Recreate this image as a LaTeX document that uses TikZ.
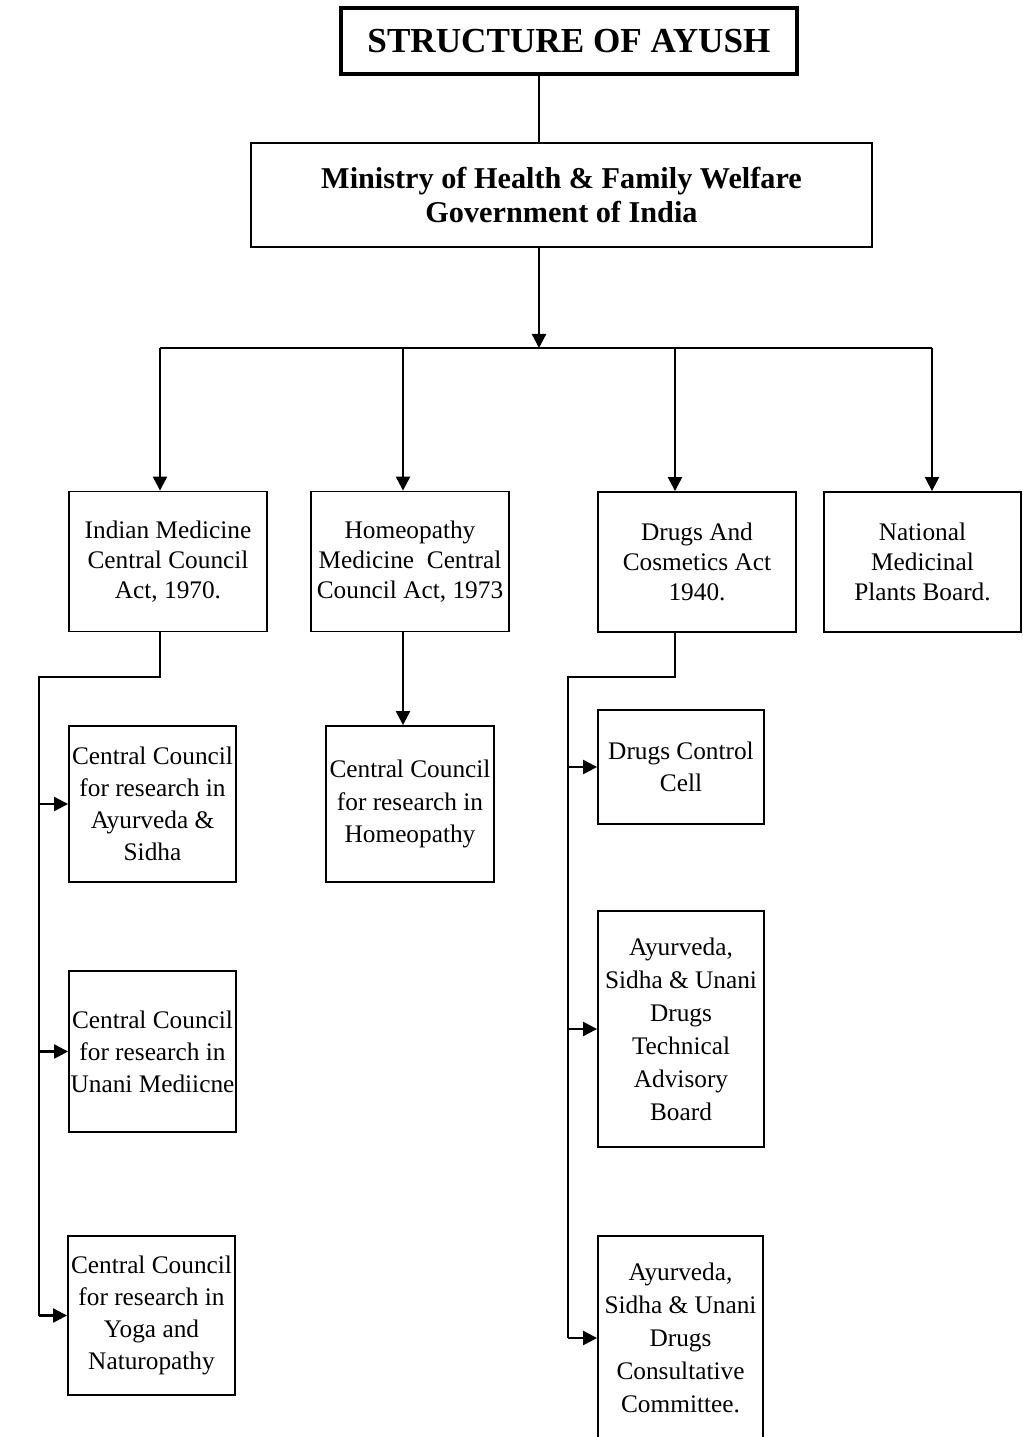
\documentclass[tikz,border=0pt]{standalone}
\usepackage{fontspec}
\setmainfont{Liberation Serif}
\usepackage{tikz}
\usetikzlibrary{arrows.meta, positioning, calc}

\begin{document}
\begin{tikzpicture}[
  x=0.025cm, y=-0.025cm,
  headbox/.style={draw, line width=2.6pt, inner sep=0pt, minimum width=11.4cm, minimum height=1.65cm, font=\fontsize{25}{28}\selectfont\bfseries},
  ministry/.style={draw, line width=1.3pt, inner sep=0pt, align=center, minimum width=15.525cm, minimum height=2.6cm, font=\fontsize{21.5}{24.5}\selectfont\bfseries},
  actbox/.style={draw, line width=1.3pt, inner sep=0pt, align=center, minimum width=4.95cm, minimum height=3.5cm, font=\fontsize{18}{21.3}\selectfont},
  unitbox/.style={draw, line width=1.3pt, inner sep=0pt, align=center, minimum width=4.175cm, font=\fontsize{18}{22.8}\selectfont},
  line/.style={line width=1.6pt},
  arr/.style={-{Triangle[length=10pt, width=10pt]}, line width=1.6pt}
]
  \useasboundingbox (0,0) rectangle (1023,1437);

  \node[headbox] (title) at (569,41) {STRUCTURE OF AYUSH};
  \node[ministry] (min) at (561.5,195) {Ministry of Health \& Family Welfare\\Government of India};

  \node[actbox] (im) at (168,561.5) {Indian Medicine\\Central Council\\Act, 1970.};
  \node[actbox] (hm) at (410,561.5) {Homeopathy\\Medicine\ \ Central\\Council Act, 1973};
  \node[actbox] (dc) at (697,562) {Drugs And\\Cosmetics Act\\1940.};
  \node[actbox, minimum width=4.925cm] (np) at (922.5,562) {National\\Medicinal\\Plants Board.};

  \node[unitbox, minimum height=3.9cm] (ca) at (152.5,804) {Central Council\\for research in\\Ayurveda \&\\Sidha};
  \node[unitbox, minimum height=4.025cm] (cu) at (152.5,1051.5) {Central Council\\for research in\\Unani Mediicne};
  \node[unitbox, minimum height=3.975cm] (cy) at (151.5,1315.5) {Central Council\\for research in\\Yoga and\\Naturopathy};
  \node[unitbox, minimum width=4.2cm, minimum height=3.9cm] (ch) at (410,804) {Central Council\\for research in\\Homeopathy};

  \node[unitbox, minimum width=4.15cm, minimum height=2.85cm] (dcc) at (681,767) {Drugs Control\\Cell};
  \node[unitbox, minimum width=4.15cm, minimum height=5.9cm, font=\fontsize{18}{23.5}\selectfont] (ta) at (681,1029) {Ayurveda,\\Sidha \& Unani\\Drugs\\Technical\\Advisory\\Board};
  \node[unitbox, minimum width=4.125cm, minimum height=5.1cm, font=\fontsize{18}{23.5}\selectfont] (cc) at (680.5,1338) {Ayurveda,\\Sidha \& Unani\\Drugs\\Consultative\\Committee.};

  % junction points
  \coordinate (hub) at (539,348);
  \coordinate (k1) at (160,348);
  \coordinate (k2) at (403,348);
  \coordinate (k3) at (675,348);
  \coordinate (k4) at (932,348);
  \coordinate (jl) at (39,677);
  \coordinate (jr) at (568,677);

  \draw[line] (hub |- title.south) -- (hub |- min.north);
  \draw[arr] (hub |- min.south) -- (hub);
  \draw[line] (k1) -- (k4);
  \foreach \k/\n in {k1/im, k2/hm, k3/dc, k4/np}
    \draw[arr] (\k) -- (\k |- \n.north);

  \draw[line] (k1 |- im.south) |- (jl) -- (jl |- cy.west);
  \foreach \n in {ca, cu, cy}
    \draw[arr] (jl |- \n.west) -- (\n.west);

  \draw[arr] (k2 |- hm.south) -- (k2 |- ch.north);

  \draw[line] (k3 |- dc.south) |- (jr) -- (jr |- cc.west);
  \foreach \n in {dcc, ta, cc}
    \draw[arr] (jr |- \n.west) -- (\n.west);
\end{tikzpicture}
\end{document}
